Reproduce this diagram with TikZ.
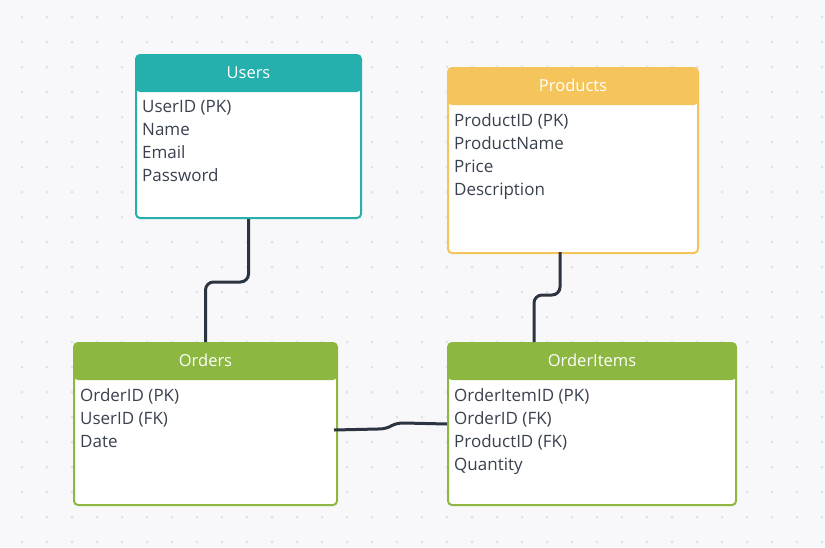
\documentclass[tikz,border=0pt]{standalone}
\usepackage{fontspec}
\setmainfont{Open Sans}
\usetikzlibrary{positioning}

\definecolor{usercol}{HTML}{25B0AE}
\definecolor{prodcol}{HTML}{F5C55C}
\definecolor{ordcol}{HTML}{8CB740}
\definecolor{inkcol}{HTML}{3A414E}
\definecolor{linkcol}{HTML}{2C3341}
\definecolor{paper}{HTML}{F8F8FA}
\definecolor{dotcol}{HTML}{E0E0E4}

\begin{document}
\begin{tikzpicture}
	[x=1pt, y=-1pt,
	entity/.style ={rectangle, draw=#1, fill=white, line width=2pt, rounded corners=4pt, anchor=north west, inner sep=0pt,
		path picture={\fill[#1] (path picture bounding box.north west) rectangle ([yshift=-37pt]path picture bounding box.north east);}},
	title/.style ={text=white, font=\fontsize{16.5}{19}\selectfont, anchor=center},
	fields/.style ={text=inkcol, font=\fontsize{17}{23}\selectfont, align=left, anchor=north west, inner sep=0pt},
	link/.style ={draw=linkcol, line width=3pt, rounded corners=8pt}]
	\fill[paper] (0,0) rectangle (825,547);
	\useasboundingbox (0,0) rectangle (825,547);
	\foreach \i in {0,...,32}
		\foreach \j in {0,...,21}
			\fill[dotcol] (22+25*\i, 17+25*\j) circle (1.5pt);
	% tables
	\draw (135, 54) node[entity=usercol, minimum width=225pt, minimum height=163pt] (users) {};
	\draw (447, 67) node[entity=prodcol, minimum width=250pt, minimum height=185pt] (products) {};
	\draw (73, 342) node[entity=ordcol, minimum width=263pt, minimum height=162pt] (orders) {};
	\draw (447, 342) node[entity=ordcol, minimum width=288pt, minimum height=162pt] (items) {};
	\draw ([yshift=-18.5pt]users.north) node[title] (usersT) {Users};
	\draw ([yshift=-18.5pt]products.north) node[title] (productsT) {Products};
	\draw ([yshift=-18.5pt]orders.north) node[title] (ordersT) {Orders};
	\draw ([yshift=-18.5pt]items.north) node[title] (itemsT) {OrderItems};
	\draw ([shift={(7pt,-46pt)}]users.north west) node[fields] (usersF) {UserID (PK)\\Name\\Email\\Password};
	\draw ([shift={(7pt,-46pt)}]products.north west) node[fields] (productsF) {ProductID (PK)\\ProductName\\Price\\Description};
	\draw ([shift={(7pt,-46pt)}]orders.north west) node[fields] (ordersF) {OrderID (PK)\\UserID (FK)\\Date};
	\draw ([shift={(7pt,-46pt)}]items.north west) node[fields] (itemsF) {OrderItemID (PK)\\OrderID (FK)\\ProductID (FK)\\Quantity};
	% links
	\coordinate (prodFoot) at (560, 252);
	\coordinate (itemsHead) at (534, 342);
	\coordinate (bendA) at (378, 429);
	\coordinate (bendB) at (404, 423);
	\draw[link] (users.south) -- ++(0,63) -| (orders.north);
	\draw[link] (prodFoot) -- ++(0,43) -| (itemsHead);
	\draw[link, sharp corners] ([shift={(-4pt,-6pt)}]orders.east) -- (bendA) .. controls (392,429) and (390,423) .. (bendB) -- (items.west);
\end{tikzpicture}
\end{document}
